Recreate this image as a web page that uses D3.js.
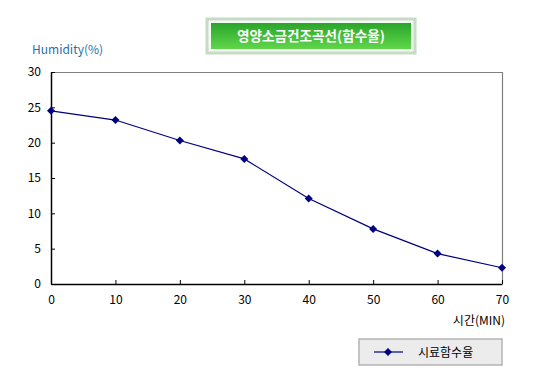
<!DOCTYPE html>
<html><head><meta charset="utf-8">
<script src="https://cdn.jsdelivr.net/npm/d3@7"></script>
<style>
body{margin:0;background:#fff;}
text{font-family:"Noto Sans CJK KR","Noto Sans",sans-serif;}
</style></head>
<body>
<svg id="c" width="538" height="383"></svg>
<script>
const title = "영양소금건조곡선(함수율)";
const yTitle = "Humidity(%)";
const xTitle = "시간(MIN)";
const seriesName = "시료함수율";
const times = [0, 10, 20, 30, 40, 50, 60, 70];
const humidity = [24.5, 23.2, 20.3, 17.7, 12.1, 7.8, 4.3, 2.3];
const yTicks = [0, 5, 10, 15, 20, 25, 30];

const svg = d3.select("#c");
const L = 51, R = 502, T = 72, B = 284;
const x = d3.scaleLinear().domain([0, 70]).range([L, R]);
const y = d3.scaleLinear().domain([0, 30]).range([B, T]);

// title box
const defs = svg.append("defs");
const g = defs.append("linearGradient").attr("id","gr").attr("x1",0).attr("y1",0).attr("x2",0).attr("y2",1);
g.append("stop").attr("offset","0%").attr("stop-color","#2aa52a");
g.append("stop").attr("offset","100%").attr("stop-color","#5fd64a");
svg.append("rect").attr("x",207).attr("y",19).attr("width",208).attr("height",34).attr("fill","#f4faf4").attr("stroke","#c6dcc6").attr("stroke-width",3);
svg.append("rect").attr("x",211).attr("y",23).attr("width",200).attr("height",26).attr("fill","url(#gr)");
svg.append("text").attr("x",311).attr("y",41).attr("text-anchor","middle").attr("fill","#fff").attr("font-weight","bold").attr("font-size",13.6).text(title);

// plot frame (top/right grey)
svg.append("path").attr("d",`M${L},${T+0.5}H${R+0.5}V${B}`).attr("fill","none").attr("stroke","#808080").attr("stroke-width",1.2);

// axes
const xAxis = d3.axisBottom(x).tickValues(times).tickSizeInner(-4).tickSizeOuter(0).tickPadding(10);
const yAxis = d3.axisLeft(y).tickValues(yTicks).tickSizeInner(-4).tickSizeOuter(0).tickPadding(10);
const gx = svg.append("g").attr("transform",`translate(0,${B})`).call(xAxis);
const gy = svg.append("g").attr("transform",`translate(${L},0)`).call(yAxis);
[gx,gy].forEach(a=>{
  a.select(".domain").attr("stroke","#000").attr("stroke-width",1.5);
  a.selectAll(".tick line").attr("stroke","#000");
  a.selectAll(".tick text").attr("font-size",12).attr("fill","#000").attr("font-family","'Noto Sans CJK KR',sans-serif");
});
gx.selectAll(".tick text").attr("dy","0.85em");

svg.append("text").attr("x",32).attr("y",54).attr("fill","#1f6fa8").attr("font-size",12).text(yTitle);
svg.append("text").attr("x",505).attr("y",325).attr("text-anchor","end").attr("fill","#000").attr("font-size",12).text(xTitle);

// line
const line = d3.line().x((d,i)=>x(times[i])).y(d=>y(d));
svg.append("path").datum(humidity).attr("d",line).attr("fill","none").attr("stroke","#000080").attr("stroke-width",1.2);
const sym = "M0,-4L4,0L0,4L-4,0Z";
svg.selectAll(".m").data(humidity).enter().append("path")
  .attr("transform",(d,i)=>`translate(${x(times[i])},${y(d)})`).attr("d",sym).attr("fill","#000080");

// legend
svg.append("rect").attr("x",359).attr("y",339).attr("width",143).attr("height",26).attr("fill","#ececec").attr("stroke","#b4b4b4").attr("stroke-width",1.5);
svg.append("line").attr("x1",374).attr("x2",403).attr("y1",352).attr("y2",352).attr("stroke","#000080").attr("stroke-width",1.2);
svg.append("path").attr("transform","translate(388,352)").attr("d",sym).attr("fill","#000080");
svg.append("text").attr("x",418).attr("y",357).attr("font-size",12).attr("fill","#000").text(seriesName);
</script>
</body></html>
